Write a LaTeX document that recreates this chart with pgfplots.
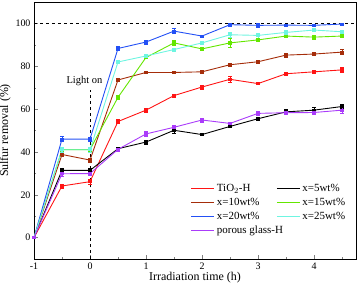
\documentclass[border=0pt]{standalone}
\usepackage{pgfplots}
\pgfplotsset{compat=1.18}
\usepackage{fontspec}
\setmainfont{Liberation Serif}
\definecolor{cred}{RGB}{255,20,20}
\definecolor{cbrown}{RGB}{165,45,10}
\definecolor{cgreen}{RGB}{100,230,0}
\definecolor{cblue}{RGB}{35,80,245}
\definecolor{ccyan}{RGB}{110,245,225}
\definecolor{cpurple}{RGB}{170,60,250}
\begin{document}
\begin{tikzpicture}
\begin{axis}[
  scale only axis, width=322bp, height=257bp,
  xmin=-1, xmax=4.75, ymin=-10, ymax=110,
  xtick={-1,0,1,2,3,4}, ytick={0,20,40,60,80,100},
  minor xtick={-0.5,0.5,1.5,2.5,3.5,4.5}, minor ytick={-10,10,30,50,70,90,110},
  xtick pos=left, ytick pos=left, tick align=inside,
  major tick length=4pt, minor tick length=2.5pt,
  /pgf/number format/assume math mode=true,
  ticklabel style={font=\fontsize{10}{12}\selectfont},
  xlabel={Irradiation time (h)}, ylabel={Sulfur removal (\%)},
  label style={font=\fontsize{12}{14}\selectfont},
  xlabel style={yshift=4pt}, ylabel style={yshift=-2pt},
  axis line style={line width=0.8pt},
  every axis plot/.append style={line width=0.9pt, mark=square*, mark size=1.1pt},
  error bars/y dir=both, error bars/y explicit,
  error bars/error bar style={line width=0.6pt},
  error bars/error mark options={rotate=90, mark size=1.8pt, line width=0.6pt},
  legend columns=2, legend cell align=left,
  legend style={at={(0.487,0.30)}, anchor=north west, draw=none, fill=none,
    font=\fontsize{11}{12}\selectfont, row sep=1.2pt, inner sep=0pt,
    nodes={inner xsep=2pt},
    /tikz/every even column/.append style={column sep=15pt}},
  legend image code/.code={\draw[line width=0.9pt] (0cm,0cm) -- (23bp,0cm);},
]
\coordinate (bl) at (rel axis cs:0,0);
\coordinate (tr) at (rel axis cs:1,1);
\addplot[black, dashed, line width=0.8pt, mark=none, forget plot] coordinates {(-1,100) (4.75,100)};
\addplot[black, dashed, line width=0.8pt, mark=none, forget plot] coordinates {(0,-10) (0,69)};
\node[font=\fontsize{10.5}{12}\selectfont] at (axis cs:-0.1,73) {Light on};
% TiO2-H
\addplot[cred, mark options={fill=cred}] coordinates {
(-1,0) +- (0,0) (-0.5,24.1) +- (0,1) (0,26.1) +- (0,1) (0.5,54.2) +- (0,0.8) (1,59.5) +- (0,0.8)
(1.5,66.3) +- (0,0.8) (2,70.3) +- (0,1) (2.5,73.9) +- (0,1.2) (3,71.9) +- (0,0.5)
(3.5,76.5) +- (0,0.8) (4,77.4) +- (0,0.6) (4.5,78.3) +- (0,1.2)};
% 5wt
\addplot[black, mark options={fill=black}] coordinates {
(-1,0) +- (0,0) (-0.5,31.4) +- (0,1) (0,31.4) +- (0,1) (0.5,41.5) +- (0,0.8) (1,44.6) +- (0,1)
(1.5,50.1) +- (0,1.2) (2,48.1) +- (0,0.5) (2.5,51.9) +- (0,0.6) (3,55.5) +- (0,0.6)
(3.5,58.7) +- (0,1) (4,59.5) +- (0,1.3) (4.5,61.2) +- (0,1)};
% 10wt
\addplot[cbrown, mark options={fill=cbrown}] coordinates {
(-1,0) +- (0,0) (-0.5,38.8) +- (0,0.8) (0,36.2) +- (0,1) (0.5,73.6) +- (0,0.8) (1,77.1) +- (0,0.6)
(1.5,77.1) +- (0,0.5) (2,77.4) +- (0,0.5) (2.5,80.7) +- (0,0.8) (3,82.1) +- (0,0.5)
(3.5,85.2) +- (0,1) (4,85.7) +- (0,0.8) (4.5,86.6) +- (0,1.2)};
% 15wt
\addplot[cgreen, mark options={fill=cgreen}] coordinates {
(-1,0) +- (0,0) (-0.5,41.1) +- (0,1) (0,41.1) +- (0,1) (0.5,65.5) +- (0,0.8) (1,84.1) +- (0,0.6)
(1.5,90.9) +- (0,1.3) (2,88.1) +- (0,0.5) (2.5,90.9) +- (0,2) (3,92.3) +- (0,0.6)
(3.5,94.1) +- (0,0.6) (4,93.6) +- (0,0.8) (4.5,94.1) +- (0,0.8)};
% 20wt
\addplot[cblue, mark options={fill=cblue}] coordinates {
(-1,0) +- (0,0) (-0.5,46) +- (0,1.2) (0,46) +- (0,1) (0.5,88.3) +- (0,0.8) (1,91.3) +- (0,1)
(1.5,96.4) +- (0,1.2) (2,94.1) +- (0,0.5) (2.5,99.4) +- (0,0.6) (3,99.1) +- (0,1)
(3.5,99.2) +- (0,0.6) (4,99.1) +- (0,0.5) (4.5,99.7) +- (0,0.5)};
% 25wt
\addplot[ccyan, mark options={fill=ccyan}] coordinates {
(-1,0) +- (0,0) (-0.5,41) +- (0,1) (0,41) +- (0,1) (0.5,82) +- (0,0.8) (1,84.8) +- (0,0.8)
(1.5,87.8) +- (0,0.8) (2,90.9) +- (0,0.8) (2.5,94.7) +- (0,1.3) (3,94.4) +- (0,1.2)
(3.5,95.8) +- (0,0.8) (4,96.9) +- (0,0.8) (4.5,96.1) +- (0,0.8)};
% porous glass-H
\addplot[cpurple, mark options={fill=cpurple}] coordinates {
(-1,0) +- (0,0) (-0.5,29.8) +- (0,1) (0,29.9) +- (0,1) (0.5,41.2) +- (0,0.8) (1,48.4) +- (0,1)
(1.5,51.5) +- (0,1) (2,54.9) +- (0,1) (2.5,53.3) +- (0,0.5) (3,58) +- (0,1)
(3.5,58.3) +- (0,0.8) (4,58.4) +- (0,0.8) (4.5,59.5) +- (0,1.5)};
\legend{TiO$_2$-H, x=5wt\%, x=10wt\%, x=15wt\%, x=20wt\%, x=25wt\%, \makebox[0pt][l]{porous glass-H}}
\end{axis}
\pgfresetboundingbox
\path[use as bounding box] ([shift={(-34bp,-32bp)}]bl) rectangle ([shift={(3bp,2bp)}]tr);
\end{tikzpicture}
\end{document}
